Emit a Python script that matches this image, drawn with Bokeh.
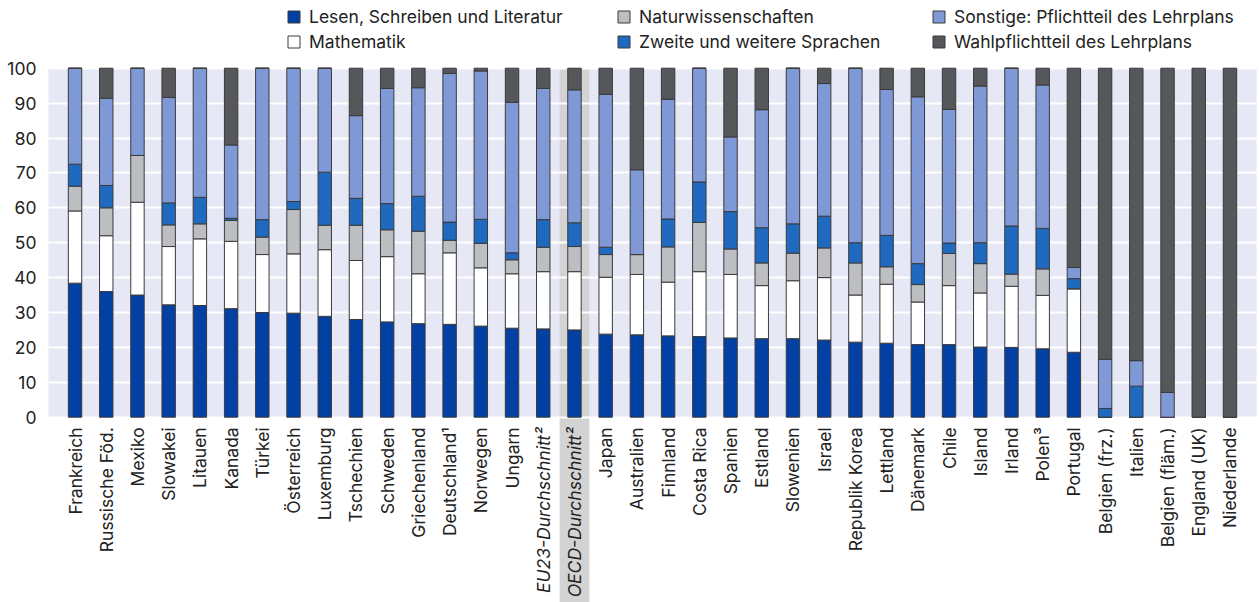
import math
from bokeh.plotting import figure
from bokeh.models import (ColumnDataSource, FactorRange, Range1d, FixedTicker,
                          Legend, LegendItem, Label)
from bokeh.core.properties import value
from bokeh.embed import file_html
from bokeh.resources import INLINE

FONT = "Inter"
FS = "17.5px"

categories = ["Frankreich", "Russische Föd.", "Mexiko", "Slowakei", "Litauen", "Kanada",
              "Türkei", "Österreich", "Luxemburg", "Tschechien", "Schweden", "Griechenland",
              "Deutschland¹", "Norwegen", "Ungarn", "EU23-Durchschnitt²", "OECD-Durchschnitt²",
              "Japan", "Australien", "Finnland", "Costa Rica", "Spanien", "Estland", "Slowenien",
              "Israel", "Republik Korea", "Lettland", "Dänemark", "Chile", "Island", "Irland",
              "Polen³", "Portugal", "Belgien (frz.)", "Italien", "Belgien (fläm.)",
              "England (UK)", "Niederlande"]

averages = ["EU23-Durchschnitt²", "OECD-Durchschnitt²"]
highlight = "OECD-Durchschnitt²"

series_labels = ["Lesen, Schreiben und Literatur", "Mathematik", "Naturwissenschaften",
                 "Zweite und weitere Sprachen", "Sonstige: Pflichtteil des Lehrplans",
                 "Wahlpflichtteil des Lehrplans"]

lesen = [38.4, 36.0, 35.0, 32.2, 32.0, 31.1, 30.0, 29.8, 28.9, 28.0, 27.3, 26.8, 26.6, 26.1,
         25.5, 25.3, 25.0, 23.8, 23.6, 23.3, 23.1, 22.7, 22.5, 22.5, 22.1, 21.5, 21.2, 20.8,
         20.8, 20.1, 20.0, 19.6, 18.6, 0, 0, 0, 0, 0]
mathe = [20.7, 16.0, 26.6, 16.7, 19.1, 19.3, 16.6, 17.0, 19.1, 16.9, 18.7, 14.3, 20.5, 16.7,
         15.6, 16.4, 16.7, 16.3, 17.3, 15.4, 18.6, 18.2, 15.2, 16.6, 17.9, 13.5, 16.9, 12.2,
         16.9, 15.5, 17.5, 15.3, 18.2, 0, 0, 0, 0, 0]
natur = [7.1, 8.0, 13.4, 6.2, 4.3, 6.0, 5.0, 12.7, 7.0, 10.1, 7.7, 12.2, 3.6, 7.0,
         4.0, 7.0, 7.2, 6.5, 5.7, 10.1, 14.1, 7.3, 6.5, 7.9, 8.5, 9.2, 5.0, 5.0,
         9.2, 8.4, 3.5, 7.6, 0, 0, 0, 0, 0, 0]
sprachen = [6.3, 6.4, 0, 6.3, 7.6, 0.6, 5.0, 2.3, 15.2, 7.7, 7.5, 10.0, 5.2, 6.9,
            2.0, 7.9, 6.8, 2.1, 0, 8.0, 11.6, 10.7, 10.1, 8.4, 9.1, 5.8, 9.0, 6.0,
            3.0, 6.0, 13.8, 11.6, 2.9, 2.5, 8.9, 0, 0, 0]
sonstige = [27.5, 25.0, 25.0, 30.2, 37.0, 21.0, 43.4, 38.2, 29.8, 23.7, 33.0, 31.1, 42.6, 42.5,
            43.1, 37.6, 38.1, 43.8, 24.3, 34.3, 32.6, 21.4, 33.8, 44.6, 38.0, 50.0, 41.8, 47.8,
            38.3, 44.9, 45.2, 41.1, 3.2, 14.1, 7.3, 7.1, 0, 0]
wahl = [0, 8.6, 0, 8.4, 0, 22.0, 0, 0, 0, 13.6, 5.8, 5.6, 1.5, 0.8,
        9.8, 5.8, 6.2, 7.5, 29.1, 8.9, 0, 19.7, 11.9, 0, 4.4, 0, 6.1, 8.2,
        11.8, 5.1, 0, 4.8, 57.1, 83.4, 83.8, 92.9, 100, 100]

y_ticks = [0, 10, 20, 30, 40, 50, 60, 70, 80, 90, 100]

colors = ["#0340a3", "#ffffff", "#bdbec2", "#1f69be", "#7f98d6", "#55575a"]
keys = ["lesen", "mathe", "natur", "sprachen", "sonstige", "wahl"]

source = ColumnDataSource(dict(cat=categories, lesen=lesen, mathe=mathe, natur=natur,
                               sprachen=sprachen, sonstige=sonstige, wahl=wahl))
label_source = ColumnDataSource(dict(
    cat=categories,
    style=["italic" if c in averages else "normal" for c in categories]))

W, H = 1259, 602
Y0, Y1 = -53.1, 119.4

p = figure(x_range=FactorRange(factors=categories, range_padding=0.35,
                               range_padding_units="absolute"),
           y_range=Range1d(Y0, Y1), width=W, height=H,
           output_backend="svg", toolbar_location=None,
           min_border_left=48, min_border_right=3, min_border_top=0, min_border_bottom=0,
           background_fill_color="white", border_fill_color="white",
           outline_line_color=None)

# plot background band (0..100) and highlighted average column
p.quad(left=-1, right=len(categories) + 1, bottom=0, top=100,
       fill_color="#e6e8f5", line_color=None, level="image")
p.vbar(x=[highlight], bottom=Y0, top=100, width=0.95,
       fill_color="#d3d3d3", line_color=None, level="image")

p.xaxis.visible = False
p.xgrid.visible = False

ticker = FixedTicker(ticks=y_ticks)
p.yaxis.ticker = ticker
p.ygrid.ticker = ticker
p.ygrid.grid_line_color = "white"
p.ygrid.grid_line_width = 2
p.yaxis.axis_line_color = None
p.yaxis.major_tick_line_color = None
p.yaxis.minor_tick_line_color = None
p.yaxis.major_label_standoff = 6
p.yaxis.major_label_text_font = FONT
p.yaxis.major_label_text_font_size = FS
p.yaxis.major_label_text_color = "#222222"

renderers = p.vbar_stack(keys, x="cat", width=0.43, color=colors,
                         line_color="#3a3a3a", line_width=1, source=source)

p.text(x="cat", y=-2.9, text="cat", source=label_source, angle=math.pi / 2,
       text_align="right", text_baseline="middle", text_font=value(FONT),
       text_font_size=FS, text_color="#222222", text_font_style="style")

for (i, j), vx in zip([(0, 1), (2, 3), (4, 5)], [238, 568, 883]):
    lg = Legend(items=[LegendItem(label=series_labels[i], renderers=[renderers[i]]),
                       LegendItem(label=series_labels[j], renderers=[renderers[j]])],
                location=(vx, 550), orientation="vertical", padding=0, margin=0,
                spacing=4, glyph_width=15, glyph_height=15, label_height=16,
                label_standoff=8, label_text_font=FONT, label_text_font_size=FS,
                label_text_color="#222222", background_fill_alpha=0,
                border_line_color=None)
    p.add_layout(lg)

p.add_layout(Label(x=-9, y=107.2, x_units="screen", y_units="data", text="%",
                   text_align="right", text_baseline="middle", text_font=FONT,
                   text_font_size=FS, text_color="#222222"))

open("out.html", "w").write(file_html(p, INLINE))
